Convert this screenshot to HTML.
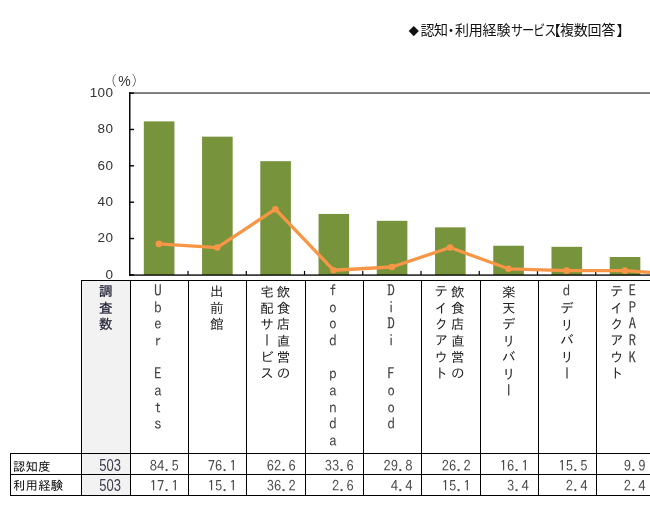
<!DOCTYPE html>
<html lang="ja"><head><meta charset="utf-8"><title>認知・利用経験サービス</title>
<style>
html,body{margin:0;padding:0;background:#fff;}
body{width:650px;height:505px;position:relative;overflow:hidden;font-family:"Liberation Sans","IPAGothic","Noto Sans CJK JP",sans-serif;color:#222;}
.abs{position:absolute;}
#title{left:0;top:19px;width:650px;height:22px;font-family:"Liberation Sans","Noto Sans CJK JP",sans-serif;font-size:14px;line-height:22px;white-space:nowrap;color:#111;}
#title span{position:absolute;top:0;display:block;transform-origin:0 50%;}
.yl{position:absolute;width:40px;text-align:right;left:73.4px;letter-spacing:0.4px;font-size:13.5px;line-height:14px;color:#333;font-family:"Liberation Sans",sans-serif;}
.hl{position:absolute;background:#000;height:1px;}
.vl{position:absolute;background:#000;width:1px;}
.vt{position:absolute;top:283.6px;writing-mode:vertical-rl;text-orientation:upright;font-family:"IPAGothic","Liberation Mono","Noto Sans CJK JP",monospace;font-size:13.5px;line-height:16.4px;letter-spacing:2.9px;white-space:pre;color:#222;display:flex;justify-content:flex-start;align-items:center;height:170px;}
.vt .l{color:#444;font-size:15.5px;letter-spacing:1.15px;position:relative;top:-1.5px;left:-0.8px;}
.num{position:absolute;font-family:"IPAGothic","Liberation Mono","Noto Sans CJK JP",monospace;font-size:14.5px;line-height:20px;text-align:right;color:#4a4a4a;white-space:pre;}
.n503{position:absolute;font-family:"Liberation Sans",sans-serif;font-size:15.6px;line-height:20px;text-align:right;color:#3c3c4c;transform:scale(0.835,1);transform-origin:100% 75%;}
.rl{position:absolute;left:13px;font-family:"IPAGothic","Liberation Mono","Noto Sans CJK JP",monospace;font-size:12.4px;line-height:20px;color:#000;white-space:nowrap;letter-spacing:0.2px;}
</style></head><body>
<div id="title" class="abs"><span id="t1" style="left:408.6px;font-size:10.5px;top:1px;">◆</span><span id="t2" style="left:420.5px;letter-spacing:-0.6px;">認知</span><span id="t3" style="left:444.0px;">・</span><span id="t4" style="left:455.0px;letter-spacing:-0.2px;">利用経験</span><span id="t5" style="left:511.2px;transform:scaleX(0.87);letter-spacing:-1.3px;">サービス</span><span id="t6" style="left:546.8px;">【</span><span id="t7" style="left:560.0px;letter-spacing:-0.2px;">複数回答</span><span id="t8" style="left:616.4px;">】</span></div>
<div class="abs" style="left:82px;top:281px;width:48px;height:214px;background:#f2f2f2;"></div>
<svg class="abs" style="left:0;top:0" width="650" height="505" viewBox="0 0 650 505">
<rect x="130" y="92.1" width="520" height="1.9" fill="#7c7c7c"/>
<rect x="143.82" y="121.38" width="30.6" height="153.62" fill="#77933c"/>
<rect x="202.06" y="136.65" width="30.6" height="138.35" fill="#77933c"/>
<rect x="260.30" y="161.19" width="30.6" height="113.81" fill="#77933c"/>
<rect x="318.54" y="213.92" width="30.6" height="61.08" fill="#77933c"/>
<rect x="376.78" y="220.82" width="30.6" height="54.18" fill="#77933c"/>
<rect x="435.02" y="227.37" width="30.6" height="47.63" fill="#77933c"/>
<rect x="493.26" y="245.73" width="30.6" height="29.27" fill="#77933c"/>
<rect x="551.50" y="246.82" width="30.6" height="28.18" fill="#77933c"/>
<rect x="609.74" y="257.00" width="30.6" height="18.00" fill="#77933c"/>
<rect x="129.05" y="92.3" width="1.45" height="183.3" fill="#000"/>
<rect x="129.05" y="274.4" width="520.95" height="1.35" fill="#000"/>
<rect x="129.05" y="274.20" width="5" height="1.4" fill="#000"/>
<rect x="129.05" y="237.84" width="5" height="1.4" fill="#000"/>
<rect x="129.05" y="201.48" width="5" height="1.4" fill="#000"/>
<rect x="129.05" y="165.12" width="5" height="1.4" fill="#000"/>
<rect x="129.05" y="128.76" width="5" height="1.4" fill="#000"/>
<rect x="129.05" y="92.40" width="5" height="1.4" fill="#000"/>
<rect x="187.44" y="270.9" width="1.2" height="4" fill="#000"/>
<rect x="245.68" y="270.9" width="1.2" height="4" fill="#000"/>
<rect x="303.92" y="270.9" width="1.2" height="4" fill="#000"/>
<rect x="362.16" y="270.9" width="1.2" height="4" fill="#000"/>
<rect x="420.40" y="270.9" width="1.2" height="4" fill="#000"/>
<rect x="478.64" y="270.9" width="1.2" height="4" fill="#000"/>
<rect x="536.88" y="270.9" width="1.2" height="4" fill="#000"/>
<rect x="595.12" y="270.9" width="1.2" height="4" fill="#000"/>
<rect x="653.36" y="270.9" width="1.2" height="4" fill="#000"/>
<polyline points="158.92,243.91 217.16,247.55 275.40,209.19 333.64,270.27 391.88,267.00 450.12,247.55 508.36,268.82 566.60,270.64 624.84,270.64 683.08,274.64" fill="none" stroke="#f79646" stroke-width="3.3" stroke-linejoin="round"/>
<circle cx="158.92" cy="243.91" r="3.3" fill="#f79646"/>
<circle cx="217.16" cy="247.55" r="3.3" fill="#f79646"/>
<circle cx="275.40" cy="209.19" r="3.3" fill="#f79646"/>
<circle cx="333.64" cy="270.27" r="3.3" fill="#f79646"/>
<circle cx="391.88" cy="267.00" r="3.3" fill="#f79646"/>
<circle cx="450.12" cy="247.55" r="3.3" fill="#f79646"/>
<circle cx="508.36" cy="268.82" r="3.3" fill="#f79646"/>
<circle cx="566.60" cy="270.64" r="3.3" fill="#f79646"/>
<circle cx="624.84" cy="270.64" r="3.3" fill="#f79646"/>
</svg>
<div class="yl" style="top:267.7px">0</div>
<div class="yl" style="top:231.3px">20</div>
<div class="yl" style="top:195.0px">40</div>
<div class="yl" style="top:158.6px">60</div>
<div class="yl" style="top:122.3px">80</div>
<div class="yl" style="top:85.9px">100</div>
<div class="abs" id="pct" style="left:0;top:70px;width:200px;height:20px;color:#333;white-space:nowrap;line-height:20px;"><span id="p1" class="abs" style="left:103px;top:-0.7px;font-family:'Noto Sans CJK JP',sans-serif;font-weight:300;font-size:13.5px;">（</span><span id="p2" class="abs" style="left:118.3px;top:0.8px;font-family:'Liberation Sans',sans-serif;font-size:14px;">%</span><span id="p3" class="abs" style="left:131.7px;top:-0.7px;font-family:'Noto Sans CJK JP',sans-serif;font-weight:300;font-size:13.5px;">）</span></div>
<div class="hl" style="left:81px;top:280px;width:569px;"></div>
<div class="hl" style="left:10px;top:453px;width:640px;"></div>
<div class="hl" style="left:10px;top:474px;width:640px;"></div>
<div class="hl" style="left:10px;top:495px;width:640px;"></div>
<div class="vl" style="left:10px;top:453px;height:43px;"></div>
<div class="vl" style="left:81px;top:280px;height:216px;"></div>
<div class="vl" style="left:130px;top:280px;height:216px;"></div>
<div class="vl" style="left:188px;top:280px;height:216px;"></div>
<div class="vl" style="left:246px;top:280px;height:216px;"></div>
<div class="vl" style="left:305px;top:280px;height:216px;"></div>
<div class="vl" style="left:363px;top:280px;height:216px;"></div>
<div class="vl" style="left:421px;top:280px;height:216px;"></div>
<div class="vl" style="left:480px;top:280px;height:216px;"></div>
<div class="vl" style="left:538px;top:280px;height:216px;"></div>
<div class="vl" style="left:596px;top:280px;height:216px;"></div>
<div class="vt" style="left:81.5px;top:284.2px;width:48px;color:#1c1c30;-webkit-text-stroke:0.25px #1c1c30;">調査数</div>
<div class="vt" id="c0" style="left:129.5px;width:58.0px;"><span><span class="l">Uber Eats</span></span></div>
<div class="vt" id="c1" style="left:187.5px;width:58.0px;"><span>出前館</span></div>
<div class="vt" id="c2" style="left:245.5px;width:59.0px;"><span>飲食店直営の<br>宅配サービス</span></div>
<div class="vt" id="c3" style="left:304.5px;width:58.0px;"><span><span class="l">food panda</span></span></div>
<div class="vt" id="c4" style="left:362.8px;width:58.0px;"><span><span class="l">DiDi Food</span></span></div>
<div class="vt" id="c5" style="left:419.8px;width:59.0px;"><span>飲食店直営の<br>テイクアウト</span></div>
<div class="vt" id="c6" style="left:479.5px;width:58.0px;"><span>楽天デリバリー</span></div>
<div class="vt" id="c7" style="left:537.9px;width:58.0px;"><span><span class="l">d</span>デリバリー</span></div>
<div class="vt" id="c8" style="left:595.8px;width:58.0px;"><span><span class="l">EPARK</span><br>テイクアウト</span></div>
<div class="n503" style="left:72.7px;width:48px;top:455.9px;">503</div>
<div class="num" style="left:130.0px;width:48.8px;top:456px;">84.5</div>
<div class="num" style="left:188.0px;width:48.8px;top:456px;">76.1</div>
<div class="num" style="left:246.0px;width:49.8px;top:456px;">62.6</div>
<div class="num" style="left:305.0px;width:48.8px;top:456px;">33.6</div>
<div class="num" style="left:363.7px;width:48.8px;top:456px;">29.8</div>
<div class="num" style="left:421.0px;width:49.8px;top:456px;">26.2</div>
<div class="num" style="left:480.0px;width:48.8px;top:456px;">16.1</div>
<div class="num" style="left:538.7px;width:48.8px;top:456px;">15.5</div>
<div class="num" style="left:596.6px;width:48.8px;top:456px;">9.9</div>
<div class="n503" style="left:72.7px;width:48px;top:475.9px;">503</div>
<div class="num" style="left:130.0px;width:48.8px;top:476px;">17.1</div>
<div class="num" style="left:188.0px;width:48.8px;top:476px;">15.1</div>
<div class="num" style="left:246.0px;width:49.8px;top:476px;">36.2</div>
<div class="num" style="left:305.0px;width:48.8px;top:476px;">2.6</div>
<div class="num" style="left:363.7px;width:48.8px;top:476px;">4.4</div>
<div class="num" style="left:421.0px;width:49.8px;top:476px;">15.1</div>
<div class="num" style="left:480.0px;width:48.8px;top:476px;">3.4</div>
<div class="num" style="left:538.7px;width:48.8px;top:476px;">2.4</div>
<div class="num" style="left:596.6px;width:48.8px;top:476px;">2.4</div>
<div class="rl" style="top:455.5px;">認知度</div>
<div class="rl" style="top:475.4px;">利用経験</div>
</body></html>
